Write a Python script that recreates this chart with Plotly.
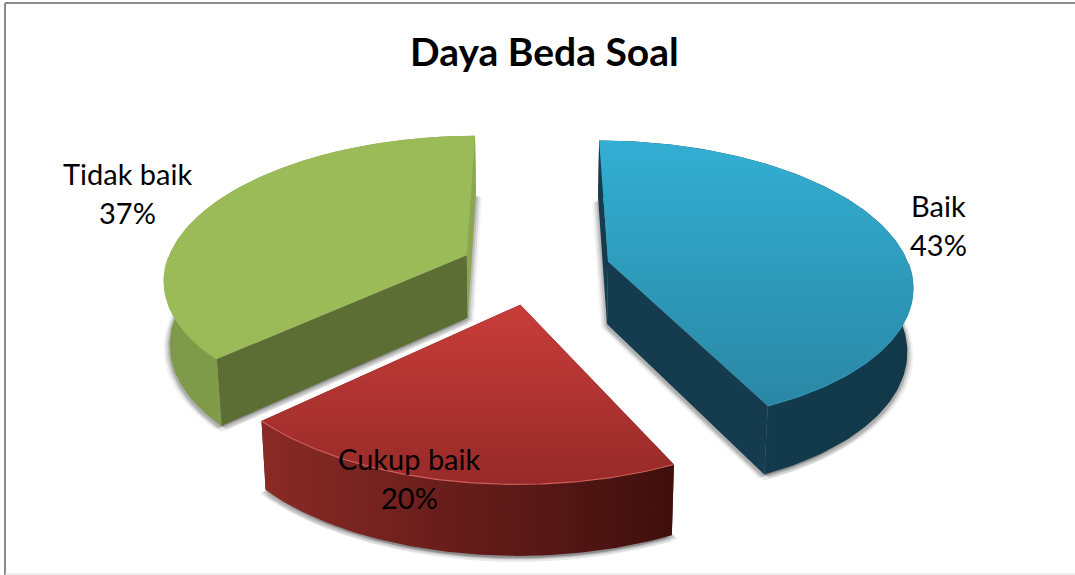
import numpy as np
import plotly.graph_objects as go

title = "Daya Beda Soal"
categories = ["Baik", "Cukup baik", "Tidak baik"]
values = [43, 20, 37]
top_colors = [["#33afd3", "#2a87a4"], ["#c83d3a", "#962a28"], ["#9bbb59", "#9bbb59"]]
rim_colors = [["#143c4e", "#12394a"], ["#8a2a26", "#3f0f0d"], ["#7e9a48", "#8aa64f"]]
edge_colors = ["#2f94b2", "#cf5f58", "#9bbb59"]
face_colors = ["#143c4e", "#5a1a18", "#5c6e33"]
label_pos = [(938, 205), (409, 458), (127, 173)]

CX, CY, A, B, E, H, CONV = 535, 269, 302, 140, 0.25, 63, 0.985
K1, K2 = 0.1534, 0.0284


def to_px(X, V, drop):
    s = 1 + K1 * V + K2 * V * V
    x = CX + A * X * s
    y = CY + B * V * s
    if drop:
        x = CX + (x - CX) * CONV
        y = y + H * s ** 0.6
    return x, y


def apex(mid, drop=False):
    return to_px(E * np.sin(mid), -E * np.cos(mid), drop)


def rim(a, mid, drop=False):
    return to_px(E * np.sin(mid) + np.sin(a), -E * np.cos(mid) - np.cos(a), drop)


fig = go.Figure()


def poly(xs, ys, fill=None, grad=None, opacity=1.0):
    xs = list(xs) + [xs[0]]
    ys = list(ys) + [ys[0]]
    kw = dict(x=xs, y=ys, mode="lines", fill="toself", hoverinfo="skip",
              showlegend=False, opacity=opacity,
              line=dict(width=0, color="rgba(0,0,0,0)"))
    if grad:
        kw["fillgradient"] = grad
    else:
        kw["fillcolor"] = fill
    fig.add_trace(go.Scatter(**kw))


fracs = np.cumsum([0] + values) / sum(values) * 2 * np.pi
wedges = []
for i in range(len(values)):
    a0, a1 = fracs[i], fracs[i + 1]
    wedges.append((i, a0, a1, (a0 + a1) / 2, np.linspace(a0, a1, 120)))

# soft shadows cast by the base of each wedge
for i, a0, a1, mid, arc in wedges:
    bx, by = rim(arc, mid, True)
    dx, dy = apex(mid, True)
    sx = np.r_[dx, bx]
    sy = np.r_[dy, by]
    for off, op in [((-6, 4), 0.08), ((-4, 3), 0.16), ((-2, 2), 0.22),
                    ((6, 4), 0.08), ((4, 3), 0.16), ((2, 2), 0.22), ((0, 6), 0.12)]:
        poly(sx + off[0], sy + off[1], fill="#555555", opacity=op)

for i, a0, a1, mid, arc in wedges:
    ax, ay = apex(mid)
    dx, dy = apex(mid, True)
    # cut faces
    for j, a in enumerate((a0, a1)):
        px, py = rim(a, mid)
        qx, qy = rim(a, mid, True)
        col = face_colors[i]
        if i == 2 and j == 1:
            col = rim_colors[2][1]
        poly([ax, px, qx, dx], [ay, py, qy, dy], fill=col)
    # outer wall
    tx, ty = rim(arc, mid)
    bx, by = rim(arc, mid, True)
    xmin, xmax = min(tx.min(), bx.min()), max(tx.max(), bx.max())
    poly(np.r_[tx, bx[::-1]], np.r_[ty, by[::-1]],
         grad=dict(type="horizontal", start=xmin, stop=xmax,
                   colorscale=[[0, rim_colors[i][0]], [1, rim_colors[i][1]]]))
    # top surface
    xs = np.r_[ax, tx]
    ys = np.r_[ay, ty]
    poly(xs, ys, grad=dict(type="vertical", start=ys.min(), stop=ys.max(),
                           colorscale=[[0, top_colors[i][0]], [1, top_colors[i][1]]]))
    # bevel highlight along the lower edge of the top surface
    keep = -np.cos(arc) > 0
    fig.add_trace(go.Scatter(x=tx[keep], y=ty[keep], mode="lines", hoverinfo="skip",
                             showlegend=False, line=dict(color=edge_colors[i], width=1.2)))

FONT = "Lato"
for name, v, (x, y) in zip(categories, values, label_pos):
    fig.add_annotation(x=x, y=y, text=name, showarrow=False,
                       font=dict(family=FONT, size=29, color="#000000"))
    fig.add_annotation(x=x, y=y + 39, text=f"{v}%", showarrow=False,
                       font=dict(family=FONT, size=29, color="#000000"))
fig.add_annotation(x=544, y=51, text=f"<b>{title}</b>", showarrow=False,
                   font=dict(family=FONT, size=39, color="#000000"))

fig.add_shape(type="line", x0=5, x1=5, y0=3, y1=575, line=dict(color="#8c8c8c", width=2))
fig.add_shape(type="line", x0=5, x1=1075, y0=3, y1=3, line=dict(color="#8c8c8c", width=2))
fig.add_shape(type="line", x0=5, x1=1075, y0=574, y1=574, line=dict(color="#dddddd", width=1))

fig.update_layout(width=1075, height=575, margin=dict(l=0, r=0, t=0, b=0),
                  paper_bgcolor="white", plot_bgcolor="white", showlegend=False,
                  xaxis=dict(range=[0, 1075], visible=False, fixedrange=True),
                  yaxis=dict(range=[575, 0], visible=False, fixedrange=True))
fig.write_html("out.html", config={"displayModeBar": False},
               post_script="document.body.style.margin='0';document.body.style.overflow='hidden';")
